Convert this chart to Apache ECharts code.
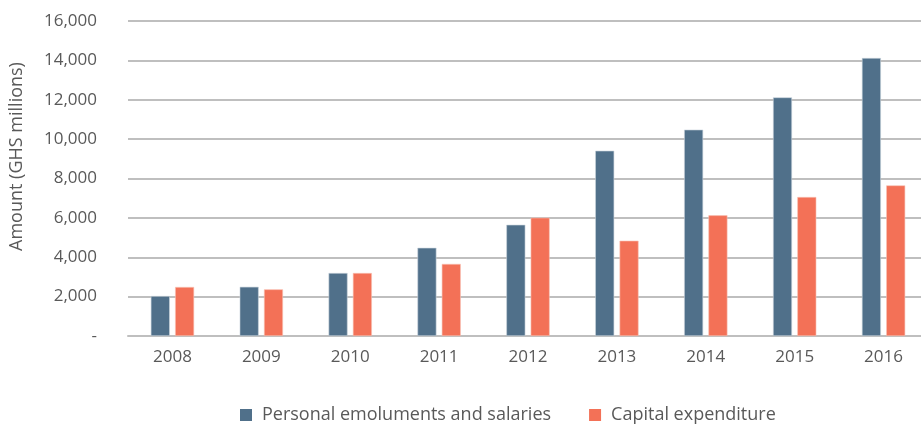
<!DOCTYPE html>
<html>
<head>
<meta charset="utf-8">
<script src="https://cdn.jsdelivr.net/npm/echarts@6/dist/echarts.min.js"></script>
<style>
  html, body { margin: 0; padding: 0; background: #fff; }
  #chart { width: 921px; height: 425px; }
</style>
</head>
<body>
<div id="chart"></div>
<script>
// values (GHS millions)
var years = ["2008", "2009", "2010", "2011", "2012", "2013", "2014", "2015", "2016"];
var salaries = [2030, 2500, 3200, 4480, 5650, 9410, 10480, 12120, 14120];
var capex = [2490, 2370, 3200, 3660, 6010, 4840, 6130, 7060, 7650];

var seriesNames = ["Personal emoluments and salaries", "Capital expenditure"];
var colors = ["#50708a", "#f37157"];

var fontFamily = "'Open Sans', sans-serif";
var textColor = "#595959";

var chart = echarts.init(document.getElementById("chart"));

var option = {
    animation: false,
    textStyle: { fontFamily: fontFamily },
    grid: {
        left: 128,
        top: 21,
        width: 800,
        height: 315,
        outerBoundsMode: "none",
        containLabel: false
    },
    legend: {
        top: 401,
        left: 235,
        itemWidth: 12,
        itemHeight: 12,
        itemGap: 38,
        icon: "rect",
        itemStyle: { borderWidth: 0 },
        textStyle: { fontSize: 18, color: textColor, fontFamily: fontFamily, padding: [0, 0, 0, 5] },
        data: seriesNames
    },
    xAxis: {
        type: "category",
        data: years,
        axisTick: { show: false },
        axisLine: { lineStyle: { color: "#bfbfbf", width: 2 } },
        axisLabel: { fontSize: 17, color: textColor, margin: 13, fontFamily: fontFamily }
    },
    yAxis: {
        type: "value",
        min: 0,
        max: 16000,
        interval: 2000,
        name: "Amount (GHS millions)",
        nameLocation: "middle",
        nameGap: 102,
        nameTextStyle: { fontSize: 18, color: textColor, fontFamily: fontFamily, padding: [0, 0, 0, 44] },
        axisLine: { show: false },
        axisTick: { show: false },
        splitLine: { lineStyle: { color: "#bfbfbf", width: 2 } },
        axisLabel: {
            fontSize: 17,
            color: textColor,
            margin: 31,
            fontFamily: fontFamily,
            formatter: function (v) {
                return v === 0 ? "-" : v.toLocaleString("en-US");
            }
        }
    },
    series: [
        {
            name: seriesNames[0],
            type: "bar",
            data: salaries,
            barWidth: 19,
            barGap: "28%",
            itemStyle: { color: colors[0], borderColor: "#c9d3dc", borderWidth: 0.6 }
        },
        {
            name: seriesNames[1],
            type: "bar",
            data: capex,
            barWidth: 19,
            itemStyle: { color: colors[1], borderColor: "#f9c2b6", borderWidth: 0.6 }
        }
    ]
};

chart.setOption(option);
</script>
</body>
</html>
